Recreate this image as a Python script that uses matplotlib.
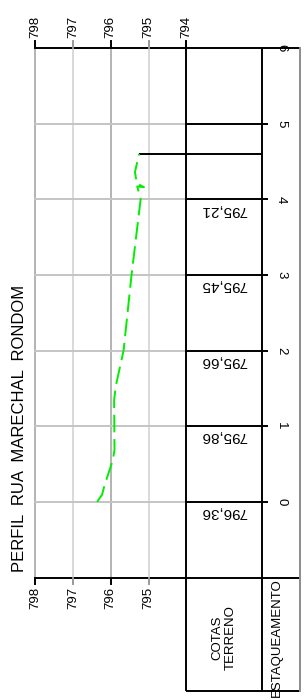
import matplotlib
matplotlib.use("Agg")
import matplotlib.pyplot as plt

plt.rcParams['font.family'] = ['Liberation Sans', 'DejaVu Sans']

# --- data ---
title = "PERFIL  RUA  MARECHAL  RONDOM"
stations = [0, 1, 2, 3, 4, 5, 6]
station_labels = ["0", "1", "2", "3", "4", "5", "6"]
elev_top = [798, 797, 796, 795, 794]
elev_bottom = [798, 797, 796, 795]
cota_stations = [0, 1, 2, 3, 4]
cota_values = [796.36, 795.86, 795.66, 795.45, 795.21]

# ground profile (station, elevation)
profile_st = [0.0, 0.066, 0.093, 0.225, 0.542, 0.687, 1.348, 1.547, 2.0, 3.0,
              4.0, 4.17, 4.16, 4.21, 4.36, 4.60]
profile_el = [796.36, 796.27, 796.23, 796.16, 795.95, 795.90, 795.91, 795.86,
              795.66, 795.45, 795.21, 795.30, 795.12, 795.31, 795.36, 795.25]

# table / frame layout in drawing units
e_left, e_grid_end, e_col, e_right = 798, 794, 792, 791
st_top, st_base, st_table_bottom = 6, -1, -2.5

# pixel geometry of the sheet
W, H = 304, 700
px_e_left, px_e_right = 35, 300      # x pixel of 798 and 791
px_st_top, px_st_bottom = 48, 691    # y pixel of station 6 and -2.5
sx = (px_e_right - px_e_left) / (e_left - e_right)
sy = (px_st_bottom - px_st_top) / (st_top - st_table_bottom)

fig = plt.figure(figsize=(W / 100, H / 100), dpi=100)
ax = fig.add_axes([0, 0, 1, 1])
ax.set_xlim(e_left + px_e_left / sx, e_right - (W - px_e_right) / sx)
ax.set_ylim(st_table_bottom - (H - px_st_bottom) / sy, st_top + px_st_top / sy)
ax.axis('off')

black = dict(color='black', lw=1.4, solid_capstyle='butt', clip_on=False)

# vertical grid (elevations)
for e in [798, 797, 796, 795]:
    c = '#b3b3b3' if e % 2 == 0 else '#d9d9d9'
    ax.plot([e, e], [st_base, st_top], color=c, lw=1.4, zorder=1)

# horizontal grid (stations)
for s in stations[:-1]:
    ax.plot([e_left, e_grid_end], [s, s], color='#c4c4c4', lw=1.4, zorder=1)
    ax.plot([e_grid_end, e_col], [s, s], **black)
    ax.plot([e_col, e_col - 0.16], [s, s], **black)

# frame and table
ax.plot([e_left, e_right], [st_top, st_top], **black)
ax.plot([e_left, e_right], [st_base, st_base], **black)
ax.plot([e_grid_end, e_grid_end], [st_table_bottom, st_top + 0.09], **black)
ax.plot([e_col, e_col], [st_table_bottom, st_top], **black)
ax.plot([e_grid_end, e_right], [st_table_bottom, st_table_bottom], **black)
ax.plot([e_right, e_right], [st_table_bottom, st_top], color='#8c8c8c', lw=1.4)

# axis ticks
for e in elev_top:
    c = 'black' if e % 2 == 0 else '#999999'
    ax.plot([e, e], [st_top, st_top + 0.09], color=c, lw=1.4, clip_on=False)
    ax.text(e, st_top + 0.13, str(e), rotation=90, ha='center', va='bottom',
            fontsize=9.5)
for e in elev_bottom:
    c = 'black' if e % 2 == 0 else '#999999'
    ax.plot([e, e], [st_base, st_base - 0.09], color=c, lw=1.4)
    ax.text(e, st_base - 0.12, str(e), rotation=90, ha='center', va='top',
            fontsize=9.5)
for s, lab in zip(stations, station_labels):
    ax.text(791.5, s, lab, rotation=-90, ha='center', va='center', fontsize=9.5)

# ground profile
ax.plot(profile_el, profile_st, color='#00ee00', lw=1.4, dashes=(9, 3.5), zorder=3)
ax.plot([profile_el[-1], e_col], [profile_st[-1], profile_st[-1]], **black)

# elevation labels
for s, v in zip(cota_stations, cota_values):
    ax.text(793.0, s - 0.135, f"{v:.2f}".replace('.', ','), rotation=180,
            ha='center', va='center', fontsize=11)

ax.text(793.0, -1.8, "COTAS\nTERRENO", rotation=90, ha='center', va='center',
        fontsize=9.5, linespacing=1.1)
ax.text(791.6, -1.8, "ESTAQUEAMENTO", rotation=90, ha='center', va='center',
        fontsize=9.5)

ax.text(798.40, 0.965, title, rotation=90, ha='center', va='center', fontsize=12)

fig.savefig("out.png", dpi=100)
